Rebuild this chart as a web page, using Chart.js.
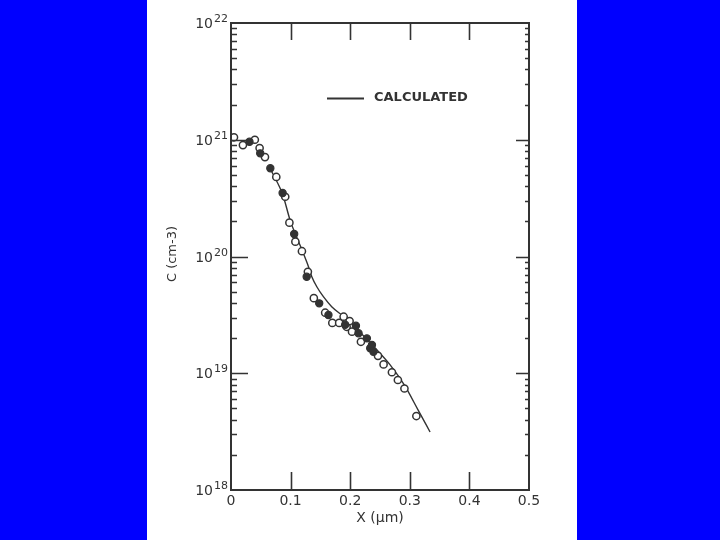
<!DOCTYPE html>
<html>
<head>
<meta charset="utf-8">
<script src="https://cdn.jsdelivr.net/npm/chart.js@4/dist/chart.umd.min.js"></script>
<style>
  html, body { margin: 0; padding: 0; background: #0000ff; }
  #wrap { position: relative; width: 720px; height: 540px; overflow: hidden; }
  #paper { position: absolute; left: 147px; top: 0; width: 430px; height: 540px; background: #ffffff; }
  #c { position: absolute; left: 0; top: 0; }
</style>
</head>
<body>
<div id="wrap">
  <div id="paper"></div>
  <canvas id="c" width="720" height="540"></canvas>
</div>
<script>
// ---- data ----
const calcX = [0.067, 0.087, 0.099, 0.119, 0.130, 0.1356, 0.144, 0.155, 0.169, 0.186, 0.197, 0.217, 0.245, 0.267, 0.291, 0.314, 0.334];
const calcC = [5.5e20, 3.37e20, 2.06e20, 1.14e20, 8.18e19, 6.72e19, 5.51e19, 4.53e19, 3.72e19, 3.15e19, 2.86e19, 2.23e19, 1.58e19, 1.18e19, 7.9e18, 4.84e18, 3.14e18];

const openX = [0.005, 0.020, 0.040, 0.048, 0.057, 0.076, 0.091, 0.098, 0.108, 0.119, 0.129, 0.139, 0.158, 0.170, 0.1815, 0.189, 0.194, 0.199, 0.203, 0.218, 0.2466, 0.256, 0.270, 0.280, 0.291, 0.311];
const openC = [1.05e21, 9.0e20, 1.0e21, 8.5e20, 7.1e20, 4.8e20, 3.25e20, 1.95e20, 1.34e20, 1.11e20, 7.4e19, 4.4e19, 3.3e19, 2.7e19, 2.7e19, 3.05e19, 2.5e19, 2.8e19, 2.27e19, 1.86e19, 1.41e19, 1.19e19, 1.02e19, 8.75e18, 7.4e18, 4.3e18];

const fillX = [0.031, 0.049, 0.066, 0.0866, 0.106, 0.127, 0.148, 0.1635, 0.1916, 0.2096, 0.214, 0.228, 0.2336, 0.2365, 0.239];
const fillC = [9.6e20, 7.65e20, 5.7e20, 3.5e20, 1.56e20, 6.7e19, 3.97e19, 3.15e19, 2.6e19, 2.55e19, 2.2e19, 1.99e19, 1.64e19, 1.75e19, 1.53e19];

const xTicks = [0, 0.1, 0.2, 0.3, 0.4, 0.5];
const xTickLabels = ['0', '0.1', '0.2', '0.3', '0.4', '0.5'];
const yTicks = [1e18, 1e19, 1e20, 1e21, 1e22];
const yTickExps = ['18', '19', '20', '21', '22'];
const xTitle = 'X (\u03bcm)';
const yTitle = 'C (cm-3)';
const legendLabel = 'CALCULATED';

const ink = '#333333';
const pts = (xs, ys) => xs.map((x, i) => ({ x: x, y: ys[i] }));

const decor = {
  id: 'decor',
  afterDraw(chart) {
    const ctx = chart.ctx;
    const xs = chart.scales.x, ys = chart.scales.y;
    const a = chart.chartArea;
    ctx.save();
    ctx.strokeStyle = ink;
    ctx.fillStyle = ink;
    // frame
    ctx.lineWidth = 2;
    ctx.strokeRect(a.left, a.top, a.right - a.left, a.bottom - a.top);
    // x major ticks (inward, top and bottom)
    ctx.lineWidth = 1.6;
    xTicks.forEach(v => {
      if (v <= 0 || v >= 0.5) return;
      const px = Math.round(xs.getPixelForValue(v)) + 0.5;
      ctx.beginPath();
      ctx.moveTo(px, a.bottom); ctx.lineTo(px, a.bottom - 18);
      ctx.moveTo(px, a.top); ctx.lineTo(px, a.top + 17);
      ctx.stroke();
    });
    // y ticks (log, inward on left and right)
    for (let e = 18; e < 22; e++) {
      for (let m = 1; m <= 9; m++) {
        const v = m * Math.pow(10, e);
        if (v <= 1e18) continue;
        const py = Math.round(ys.getPixelForValue(v)) + 0.5;
        const major = (m === 1);
        ctx.lineWidth = major ? 1.6 : 1.4;
        ctx.beginPath();
        ctx.moveTo(a.left, py); ctx.lineTo(a.left + (major ? 17 : 6), py);
        ctx.moveTo(a.right, py); ctx.lineTo(a.right - (major ? 13 : 4), py);
        ctx.stroke();
      }
    }
    // x tick labels
    ctx.font = '14px "DejaVu Sans", sans-serif';
    ctx.textAlign = 'center';
    ctx.textBaseline = 'middle';
    xTicks.forEach((v, i) => {
      ctx.fillText(xTickLabels[i], xs.getPixelForValue(v), a.bottom + 11);
    });
    // y tick labels "10" with superscript exponent
    yTicks.forEach((v, i) => {
      const py = ys.getPixelForValue(v);
      ctx.textAlign = 'right';
      ctx.textBaseline = 'alphabetic';
      ctx.font = '11px "DejaVu Sans", sans-serif';
      const ew = ctx.measureText(yTickExps[i]).width;
      ctx.fillText(yTickExps[i], a.left - 3, py - 1);
      ctx.font = '14px "DejaVu Sans", sans-serif';
      ctx.fillText('10', a.left - 4 - ew, py + 5);
    });
    // axis titles
    ctx.font = '14px "DejaVu Sans", sans-serif';
    ctx.textAlign = 'center';
    ctx.textBaseline = 'middle';
    ctx.fillText(xTitle, (a.left + a.right) / 2, 518);
    ctx.save();
    ctx.translate(173, 254);
    ctx.rotate(-Math.PI / 2);
    ctx.font = '13px "DejaVu Sans", sans-serif';
    ctx.fillText(yTitle, 0, 0);
    ctx.restore();
    // legend
    ctx.lineWidth = 2;
    ctx.beginPath();
    ctx.moveTo(327, 98.5); ctx.lineTo(364, 98.5);
    ctx.stroke();
    ctx.font = 'bold 13px "DejaVu Sans", sans-serif';
    ctx.textAlign = 'left';
    ctx.fillText(legendLabel, 374, 98);
    ctx.restore();
  }
};

new Chart(document.getElementById('c'), {
  type: 'scatter',
  data: {
    datasets: [
      {
        type: 'line',
        label: legendLabel,
        data: pts(calcX, calcC),
        borderColor: ink,
        borderWidth: 1.4,
        pointRadius: 0,
        cubicInterpolationMode: 'monotone',
        fill: false,
        order: 3
      },
      {
        label: 'open',
        data: pts(openX, openC),
        pointRadius: 3.6,
        pointBackgroundColor: '#ffffff',
        pointBorderColor: ink,
        pointBorderWidth: 1.5,
        order: 2
      },
      {
        label: 'filled',
        data: pts(fillX, fillC),
        pointRadius: 3.6,
        pointBackgroundColor: ink,
        pointBorderColor: ink,
        pointBorderWidth: 1.2,
        order: 1
      }
    ]
  },
  options: {
    responsive: false,
    animation: false,
    events: [],
    layout: { padding: { left: 231, right: 191, top: 23, bottom: 50 } },
    plugins: { legend: { display: false }, tooltip: { enabled: false } },
    scales: {
      x: { type: 'linear', min: 0, max: 0.5, display: false },
      y: { type: 'logarithmic', min: 1e18, max: 1e22, display: false }
    }
  },
  plugins: [decor]
});
</script>
</body>
</html>
